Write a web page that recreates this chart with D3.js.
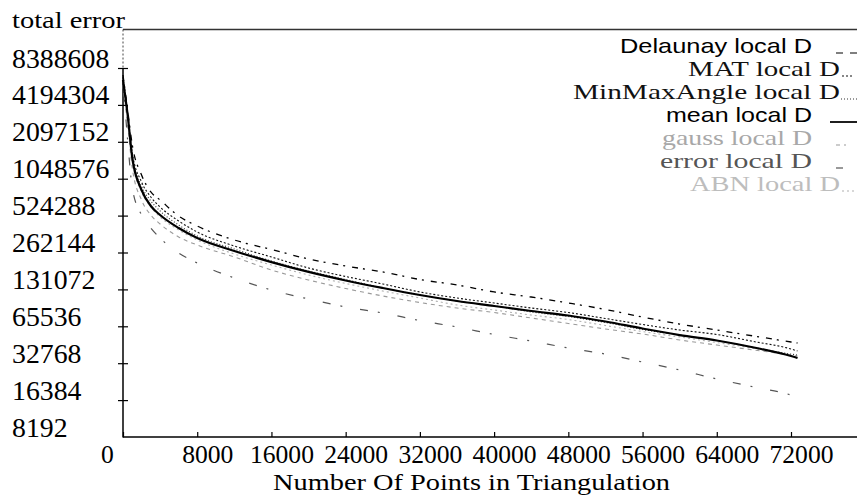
<!DOCTYPE html>
<html><head><meta charset="utf-8">
<script src="https://cdn.jsdelivr.net/npm/d3@7"></script>
<style>html,body{margin:0;padding:0;background:#fff;} svg{display:block;}</style>
</head><body>
<svg id="chart" width="857" height="495"></svg>
<script>
// ---------------- data ----------------
const points = [0,500,1000,2000,3000,4000,6000,8000,12000,16000,20000,24000,28000,32000,36000,40000,44000,48000,52000,56000,60000,64000,68000,72000,72700];
const delaunayLocalD = [7350000,3812000,1975000,1124000,817000,703000,520000,431000,331600,277300,232000,203400,182000,157800,142400,124900,113600,101500,89900,78000,68400,61100,54600,48800,47900];
const matLocalD = [7084000,3672000,1699000,985700,743600,616000,473900,385400,296200,240900,195900,167100,145100,124900,111500,101500,92400,84900,75900,67800,61100,56200,49200,42800,41200];
const minMaxAngleLocalD = [6953000,3535000,1606000,914300,690000,572000,439300,357300,280000,223500,185200,157800,134600,118000,105400,96000,85800,78800,70400,61700,55600,50200,44000,38900,38200];
const meanLocalD = [6700000,3470000,1547000,848000,628000,530000,415000,344000,270000,219000,182000,155000,134600,118000,105400,96000,87400,80300,71700,62900,55600,50200,44000,37500,36150];
const gaussLocalD = [6094000,2875000,1282000,703000,530000,447700,350800,301800,240900,188700,156400,133300,115800,102500,92400,84900,76600,69100,62300,56700,50700,46100,42000,38200,37500];
const errorLocalD = [6500000,2169000,880600,530000,415000,344000,259700,215200,162400,129600,109500,94200,84100,73000,64700,56200,49700,43600,38900,33500,28850,24360,20960,18040,17370];
const abnLocalD = [6573000,3341000,1462000,817000,616000,510700,400100,331600,254800,207300,171800,146500,127200,111500,97800,89000,81000,74400,66500,59400,53600,48300,43200,37500,36150];

const seriesNames = ["Delaunay local D","MAT local D","MinMaxAngle local D","mean local D","gauss local D","error local D","ABN local D"];
const xTicks = [0,8000,16000,24000,32000,40000,48000,56000,64000,72000];
const yTicks = [8192,16384,32768,65536,131072,262144,524288,1048576,2097152,4194304,8388608];
const yTitle = "total error";
const xTitle = "Number Of Points in Triangulation";

// ---------------- styles ----------------
const serif = "'Liberation Serif','Times New Roman',serif";
const sans = "'Liberation Sans',Arial,sans-serif";
const series = [
  {name: seriesNames[4], values: gaussLocalD,        stroke:"#9a9a9a", w:1.1, dash:"4,4",  text:"#a8a8a8", font:serif, end:812, len:150, sx0:836, sx1:846},
  {name: seriesNames[6], values: abnLocalD,          stroke:"#b0b0b0", w:1.1, dash:"2,3",  text:"#bdbdbd", font:serif, end:840, len:150, sx0:842, sx1:857},
  {name: seriesNames[5], values: errorLocalD,        stroke:"#555",    w:1.2, dash:"8,10,2,18", text:"#555", font:serif, end:812, len:152, sx0:836, sx1:843},
  {name: seriesNames[2], values: minMaxAngleLocalD,  stroke:"#333",    w:1.1, dash:"1,2",  text:"#111", font:serif, end:840, len:267, sx0:841, sx1:857},
  {name: seriesNames[1], values: matLocalD,          stroke:"#111",    w:1.1, dash:"2,2",  text:"#111", font:serif, end:840, len:152, sx0:842, sx1:852},
  {name: seriesNames[0], values: delaunayLocalD,     stroke:"#000",    w:1.3, dash:"6,5,2,7", text:"#000", font:sans, end:812, len:192, sx0:836, sx1:857, sdash:"7,7"},
  {name: seriesNames[3], values: meanLocalD,         stroke:"#000",    w:2.2, dash:null,   text:"#000", font:sans, end:812, len:146, sx0:830, sx1:857}
];

// ---------------- scales ----------------
const svg = d3.select("#chart");
const x = d3.scaleLinear().domain([0,72000]).range([123,791]);
const y = d3.scaleLog().base(2).domain([8192,8388608]).range([437,68]);

// top rule
svg.append("line").attr("x1",123).attr("x2",857).attr("y1",29.5).attr("y2",29.5)
  .attr("stroke","#333").attr("stroke-width",1.5);

// y axis ticks (crossing the axis)
const yTickG = svg.append("g").attr("transform","translate(128,0)")
  .call(d3.axisLeft(y).tickValues(yTicks.filter(v=>v>8192)).tickSize(10).tickFormat(""));
yTickG.select(".domain").remove();
yTickG.selectAll("line").attr("stroke","#000").attr("stroke-width",1.2);

// y axis line
svg.append("line").attr("x1",123).attr("x2",123).attr("y1",y(8388608)).attr("y2",437.5)
  .attr("stroke","#000").attr("stroke-width",1.5);
svg.append("line").attr("x1",123).attr("x2",123).attr("y1",29.5).attr("y2",y(8388608))
  .attr("stroke","#444").attr("stroke-width",1).attr("stroke-dasharray","2,2");

// y labels
const yLab = svg.append("g").attr("transform","translate(12,0)")
  .call(d3.axisRight(y).tickValues(yTicks).tickSize(0).tickPadding(0).tickFormat(d3.format("d")));
yLab.select(".domain").remove();
yLab.attr("font-family",null).attr("font-size",null);
yLab.selectAll("text")
  .attr("x",0).attr("dy",null).attr("y",-1)
  .attr("text-anchor","start")
  .attr("fill","#000")
  .style("font-family",serif).style("font-size","27px")
  .attr("textLength",d=>String(d).length*13.9).attr("lengthAdjust","spacingAndGlyphs");

// x axis ticks (upward)
const xTickG = svg.append("g").attr("transform","translate(0,437)")
  .call(d3.axisTop(x).tickValues(xTicks).tickSize(5).tickFormat(""));
xTickG.select(".domain").remove();
xTickG.selectAll("line").attr("stroke","#000").attr("stroke-width",1.2);

svg.append("line").attr("x1",123).attr("x2",857).attr("y1",437).attr("y2",437)
  .attr("stroke","#000").attr("stroke-width",1.5);

// x labels
const xLab = svg.append("g").attr("transform","translate(0,437)")
  .call(d3.axisBottom(x).tickValues(xTicks).tickSize(0).tickPadding(0).tickFormat(d3.format("d")));
xLab.select(".domain").remove();
xLab.attr("font-family",null).attr("font-size",null);
xLab.selectAll("text")
  .attr("y",26).attr("dy",null)
  .attr("x",d=> d===0 ? -16 : 10)
  .attr("text-anchor","middle")
  .attr("fill","#000")
  .style("font-family",serif).style("font-size","26px")
  .attr("textLength",d=>String(d).length*12.8).attr("lengthAdjust","spacingAndGlyphs");

// titles
svg.append("text").attr("x",12).attr("y",28).text(yTitle)
  .style("font-family",serif).style("font-size","24px").attr("fill","#000")
  .attr("textLength",113).attr("lengthAdjust","spacingAndGlyphs");
svg.append("text").attr("x",273).attr("y",490).text(xTitle)
  .style("font-family",serif).style("font-size","24px").attr("fill","#000")
  .attr("textLength",397).attr("lengthAdjust","spacingAndGlyphs");

// curves
const line = d3.line().x((d,i)=>x(points[i])).y(d=>y(d)).curve(d3.curveMonotoneX);
svg.append("g").selectAll("path").data(series).join("path")
  .attr("d",d=>line(d.values))
  .attr("fill","none")
  .attr("stroke",d=>d.stroke)
  .attr("stroke-width",d=>d.w)
  .attr("stroke-dasharray",d=>d.dash);

// legend
const legendOrder = seriesNames.map(n=>series.find(s=>s.name===n));
const baselines = [53,76,99,122,145,168,191];
const lg = svg.append("g");
legendOrder.forEach((s,i)=>{
  lg.append("text").attr("x",s.end).attr("y",baselines[i]).attr("text-anchor","end")
    .text(s.name).attr("fill",s.text)
    .style("font-family",s.font).style("font-size","21px")
    .attr("textLength",s.len).attr("lengthAdjust","spacingAndGlyphs");
  lg.append("line").attr("x1",s.sx0).attr("x2",s.sx1).attr("y1",baselines[i]).attr("y2",baselines[i])
    .attr("stroke",s.stroke).attr("stroke-width",Math.max(1.2,s.w*0.8))
    .attr("stroke-dasharray",s.sdash || s.dash);
});
</script>
</body></html>
